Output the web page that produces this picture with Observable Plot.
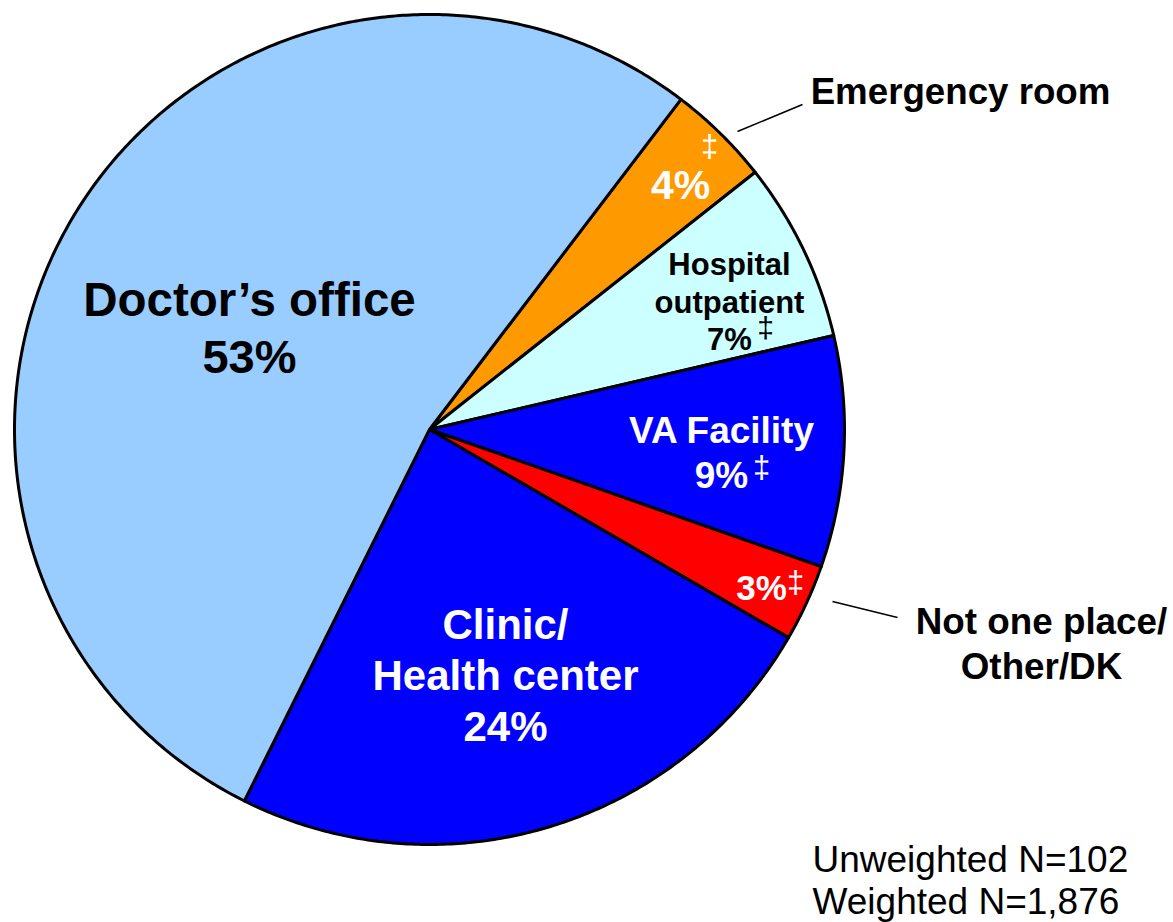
<!DOCTYPE html>
<html><head><meta charset="utf-8">
<script src="https://cdn.jsdelivr.net/npm/d3@7"></script>
<script src="https://cdn.jsdelivr.net/npm/@observablehq/plot@0.6"></script>
<style>body{margin:0;background:#fff}</style>
</head><body><div id="chart"></div>
<script>
// ---- data ----
const categories = ["Emergency room", "Hospital outpatient", "VA Facility", "Not one place/Other/DK", "Clinic/Health center", "Doctor’s office"];
const shares = [4, 7, 9, 3, 24, 53];
const sliceColors = ["#FF9900", "#CCFFFF", "#0000FF", "#FF0000", "#0000FF", "#99CCFF"];
const footnoteLines = ["Unweighted N=102", "Weighted N=1,876"];
const dagger = "‡";

// ---- layout ----
const CX = 429, CY = 429, R = 415;
const startDeg = 37.3;
const ux = p => (p - CX) / R;
const uy = p => (CY - p) / R;

const total = d3.sum(shares);
const polys = [];
let acc = 0;
categories.forEach((c, i) => {
  const a0 = startDeg + acc / total * 360;
  acc += shares[i];
  const a1 = startDeg + acc / total * 360;
  polys.push({cat: c, color: sliceColors[i], x: 0, y: 0});
  const n = Math.max(2, Math.ceil((a1 - a0) / 0.5));
  for (let k = 0; k <= n; k++) {
    const a = (a0 + (a1 - a0) * k / n) * Math.PI / 180;
    polys.push({cat: c, color: sliceColors[i], x: Math.sin(a), y: Math.cos(a)});
  }
  polys.push({cat: c, color: sliceColors[i], x: 0, y: 0});
});

const pct = i => shares[i] + "%";
const boldLabels = [
  {text: "Doctor’s office", px: 249, py: 315, size: 47.5, color: "black"},
  {text: pct(5), px: 249, py: 372, size: 47, color: "black"},
  {text: pct(0), px: 680, py: 198, size: 41, color: "white"},
  {text: "Hospital", px: 729, py: 274, size: 31, color: "black"},
  {text: "outpatient", px: 729, py: 312, size: 31, color: "black"},
  {text: pct(1), px: 729, py: 349, size: 31, color: "black"},
  {text: "VA Facility", px: 721, py: 442, size: 37, color: "white"},
  {text: pct(2), px: 721, py: 487, size: 37, color: "white"},
  {text: pct(3), px: 761, py: 599, size: 35, color: "white"},
  {text: "Clinic/", px: 505, py: 638, size: 42, color: "white"},
  {text: "Health center", px: 505, py: 689, size: 42, color: "white"},
  {text: pct(4), px: 505, py: 740, size: 42, color: "white"},
  {text: "Emergency room", px: 960, py: 103, size: 36.7, color: "black"},
  {text: "Not one place/", px: 1041, py: 633, size: 36.8, color: "black"},
  {text: "Other/DK", px: 1041, py: 678, size: 36.8, color: "black"}
].map(d => ({...d, x: ux(d.px), y: uy(d.py)}));

const daggers = [
  {px: 709, py: 147, size: 31, color: "white"},
  {px: 765, py: 328, size: 30, color: "black"},
  {px: 761, py: 468, size: 31, color: "white"},
  {px: 795, py: 583, size: 31, color: "white"}
].map(d => ({...d, text: dagger, x: ux(d.px), y: uy(d.py)}));

const footnotes = footnoteLines.map((t, i) => ({text: t, x: ux(812), y: uy(871 + i * 42)}));

const leaders = [
  {x1: ux(737), y1: uy(131), x2: ux(802), y2: uy(104)},
  {x1: ux(832), y1: uy(601), x2: ux(897), y2: uy(617)}
];

const chart = Plot.plot({
  width: 1173, height: 922, margin: 0,
  x: {domain: [-1, 1], range: [CX - R, CX + R], axis: null},
  y: {domain: [-1, 1], range: [CY + R, CY - R], axis: null},
  color: {type: "identity"},
  style: {fontFamily: "'Liberation Sans', Arial, sans-serif", background: "#fff", overflow: "visible"},
  marks: [
    Plot.line(polys, {x: "x", y: "y", z: "cat", fill: "color", stroke: "#000", strokeWidth: 3, strokeLinejoin: "round"}),
    Plot.link(leaders, {x1: "x1", y1: "y1", x2: "x2", y2: "y2", stroke: "#000", strokeWidth: 1.6}),
    Plot.text(boldLabels, {x: "x", y: "y", text: "text", fontSize: "size", fill: "color", fontWeight: "bold", textAnchor: "middle", lineAnchor: "bottom"}),
    Plot.text(daggers, {x: "x", y: "y", text: "text", fontSize: "size", fill: "color", textAnchor: "middle", lineAnchor: "middle"}),
    Plot.text(footnotes, {x: "x", y: "y", text: "text", fontSize: 37, fill: "black", textAnchor: "start", lineAnchor: "bottom"})
  ]
});
document.getElementById("chart").appendChild(chart);
</script>
</body></html>
